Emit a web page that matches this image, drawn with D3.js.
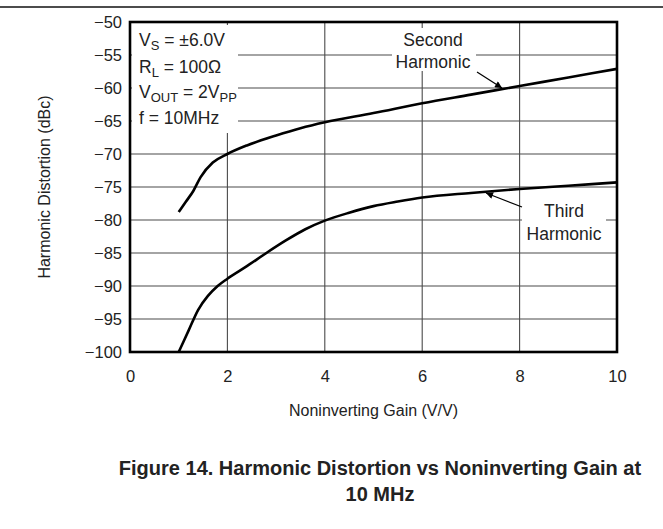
<!DOCTYPE html>
<html><head><meta charset="utf-8">
<script src="https://cdn.jsdelivr.net/npm/d3@7"></script>
<style>body{margin:0;background:#fff}svg{display:block}text{font-family:"Liberation Sans",Arial,sans-serif;fill:#222}</style>
</head><body>
<svg id="c" width="663" height="529"></svg>
<script>
const secondX = [1.0,1.15,1.3,1.45,1.7,2.0,2.4,3.0,3.5,4.0,5.0,6.0,7.0,8.0,9.0,10];
const secondY = [-78.8,-77.2,-75.6,-73.5,-71.3,-70.0,-68.7,-67.2,-66.1,-65.2,-63.8,-62.3,-61.0,-59.7,-58.4,-57.1];
const thirdX = [1.0,1.2,1.4,1.6,1.8,2.0,2.4,2.8,3.2,3.6,4.0,4.5,5.0,5.5,6.0,7.0,8.0,9.0,10];
const thirdY = [-100,-96.8,-93.6,-91.5,-90.0,-88.9,-87.0,-85.0,-83.1,-81.4,-80.1,-78.9,-77.9,-77.2,-76.6,-75.9,-75.3,-74.8,-74.3];
const xTicks = [0,2,4,6,8,10];
const yTicks = [-50,-55,-60,-65,-70,-75,-80,-85,-90,-95,-100];
const title1 = "Figure 14. Harmonic Distortion vs Noninverting Gain at";
const title2 = "10 MHz";
const xTitle = "Noninverting Gain (V/V)";
const yTitle = "Harmonic Distortion (dBc)";

const svg = d3.select("#c");
const L=130,R=617,T=22,B=352;
const x = d3.scaleLinear().domain([0,10]).range([L,R]);
const y = d3.scaleLinear().domain([-100,-50]).range([B,T]);

svg.append("line").attr("x1",0).attr("x2",663).attr("y1",7).attr("y2",7).attr("stroke","#111").attr("stroke-width",1.5);

const g = svg.append("g");
g.selectAll(".vg").data(xTicks.slice(1,-1)).join("line")
 .attr("x1",d=>x(d)).attr("x2",d=>x(d)).attr("y1",T).attr("y2",B).attr("stroke","#4a4a4a").attr("stroke-width",1.1);
g.selectAll(".hg").data(yTicks.slice(1,-1)).join("line")
 .attr("x1",L).attr("x2",R).attr("y1",d=>y(d)).attr("y2",d=>y(d)).attr("stroke","#4a4a4a").attr("stroke-width",1.1);

svg.append("rect").attr("x",L+2).attr("y",T+3).attr("width",106).attr("height",108).attr("fill","#fff");
svg.append("rect").attr("x",392).attr("y",28).attr("width",84).attr("height",43).attr("fill","#fff");
svg.append("rect").attr("x",522).attr("y",200).attr("width",84).attr("height",46).attr("fill","#fff");

const line = d3.line().x(d=>x(d[0])).y(d=>y(d[1])).curve(d3.curveMonotoneX);
svg.append("path").attr("d",line(d3.zip(secondX,secondY))).attr("fill","none").attr("stroke","#000").attr("stroke-width",2.6);
svg.append("path").attr("d",line(d3.zip(thirdX,thirdY))).attr("fill","none").attr("stroke","#000").attr("stroke-width",2.6);

svg.append("rect").attr("x",L).attr("y",T).attr("width",R-L).attr("height",B-T).attr("fill","none").attr("stroke","#000").attr("stroke-width",2.6);

const xa = d3.axisBottom(x).tickValues(xTicks).tickSize(0).tickPadding(18);
const xg = svg.append("g").attr("transform",`translate(0,${B})`).call(xa);
xg.select(".domain").remove();
xg.selectAll("text").style("font-size","16.5px").attr("fill","#222");
const ya = d3.axisLeft(y).tickValues(yTicks).tickSize(0).tickPadding(8).tickFormat(d=>String(d).replace("-","\u2212"));
const yg = svg.append("g").attr("transform",`translate(${L},0)`).call(ya);
yg.select(".domain").remove();
yg.selectAll("text").style("font-size","16.5px").attr("fill","#222");

svg.append("text").attr("x",(L+R)/2).attr("y",416).attr("text-anchor","middle").style("font-size","16px").text(xTitle);
svg.append("text").attr("transform",`translate(50,${(T+B)/2}) rotate(-90)`).attr("text-anchor","middle").style("font-size","16px").text(yTitle);

const cond = svg.append("g").style("font-size","17.5px");
function subText(px,py,parts){
  const t = cond.append("text").attr("x",px).attr("y",py);
  parts.forEach(p=>{
    const s=t.append("tspan").text(p[0]);
    if(p[1]){s.attr("dy",4).style("font-size","13px");}
    else if(p[2]){s.attr("dy",-4);}
  });
}
subText(139,46,[["V"],["S",1],[" = ±6.0V",0,1]]);
subText(139,73,[["R"],["L",1],[" = 100Ω",0,1]]);
subText(139,98,[["V"],["OUT",1],[" = 2V",0,1],["PP",1]]);
subText(139,124,[["f = 10MHz"]]);

const ann = svg.append("g").style("font-size","17.5px").attr("text-anchor","middle");
ann.append("text").attr("x",433).attr("y",46).text("Second");
ann.append("text").attr("x",433).attr("y",68).text("Harmonic");
ann.append("text").attr("x",564).attr("y",217).text("Third");
ann.append("text").attr("x",564).attr("y",240).text("Harmonic");

svg.append("defs").append("marker").attr("id","ah").attr("viewBox","0 0 10 10").attr("refX",10).attr("refY",5)
 .attr("markerWidth",10).attr("markerHeight",7).attr("markerUnits","userSpaceOnUse").attr("orient","auto")
 .append("path").attr("d","M0,0L10,5L0,10z").attr("fill","#000");
svg.append("line").attr("x1",477).attr("y1",72).attr("x2",502).attr("y2",88).attr("stroke","#000").attr("stroke-width",1.2).attr("marker-end","url(#ah)");
svg.append("line").attr("x1",522).attr("y1",207).attr("x2",486).attr("y2",193).attr("stroke","#000").attr("stroke-width",1.2).attr("marker-end","url(#ah)");

const tt = svg.append("g").style("font-size","20px").style("font-weight","bold").attr("text-anchor","middle");
tt.append("text").attr("x",380).attr("y",475).text(title1);
tt.append("text").attr("x",380).attr("y",501).text(title2);
</script>
</body></html>
